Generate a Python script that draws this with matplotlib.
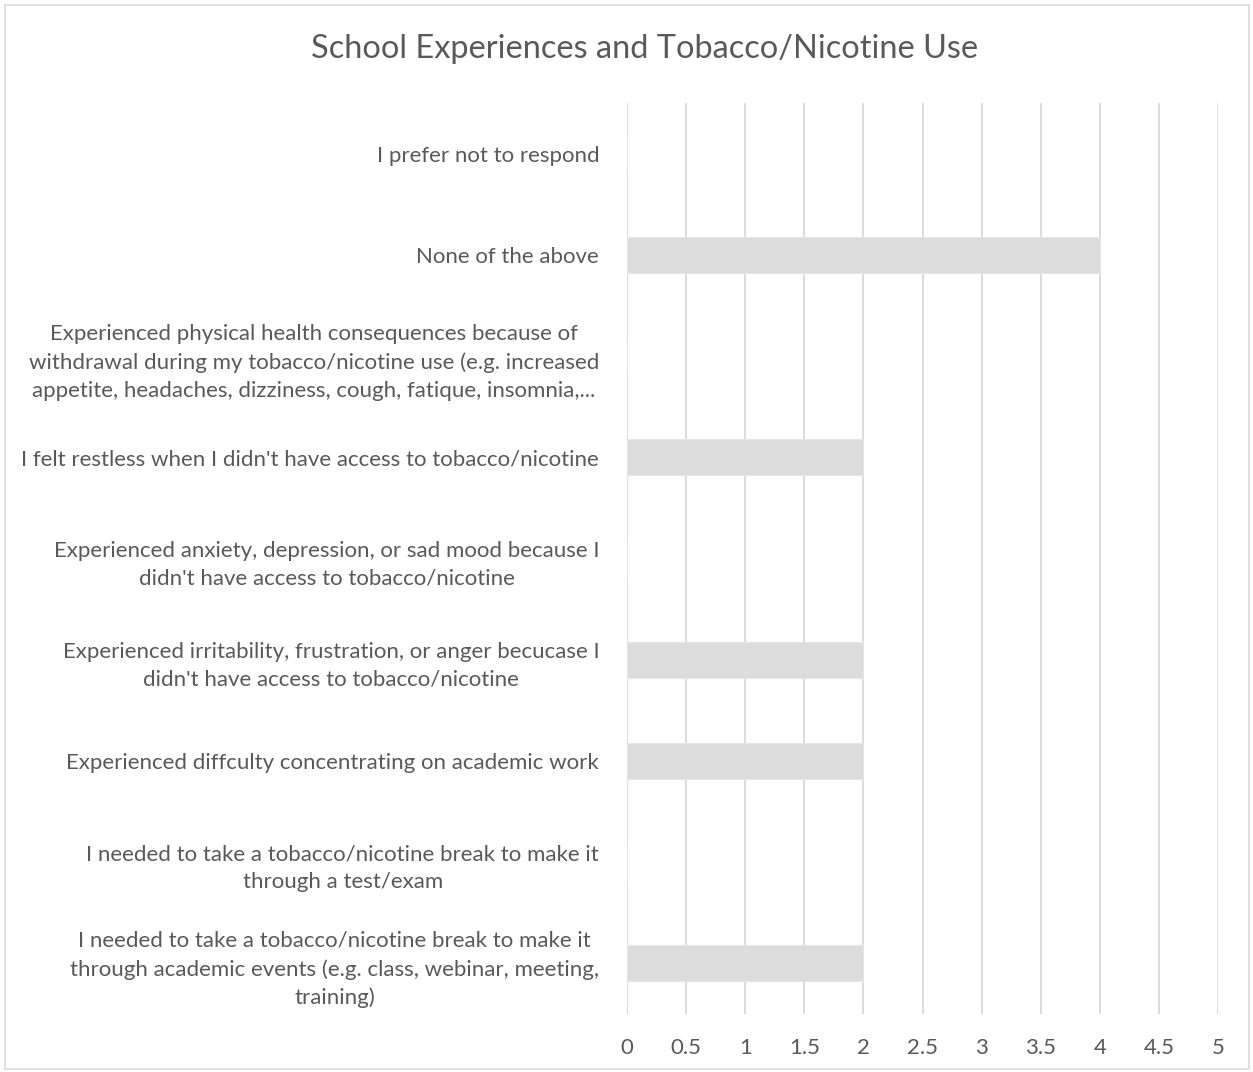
import matplotlib
matplotlib.use("Agg")
import matplotlib.pyplot as plt
from matplotlib.patches import Rectangle

categories = [
    "I needed to take a tobacco/nicotine break to make it\nthrough academic events (e.g. class, webinar, meeting,\ntraining)",
    "I needed to take a tobacco/nicotine break to make it\nthrough a test/exam",
    "Experienced diffculty concentrating on academic work",
    "Experienced irritability, frustration, or anger becucase I\ndidn't have access to tobacco/nicotine",
    "Experienced anxiety, depression, or sad mood because I\ndidn't have access to tobacco/nicotine",
    "I felt restless when I didn't have access to tobacco/nicotine",
    "Experienced physical health consequences because of\nwithdrawal during my tobacco/nicotine use (e.g. increased\nappetite, headaches, dizziness, cough, fatique, insomnia,...",
    "None of the above",
    "I prefer not to respond",
]
values = [2, 0, 2, 2, 0, 2, 0, 4, 0]
xticks = [0, 0.5, 1, 1.5, 2, 2.5, 3, 3.5, 4, 4.5, 5]
xtick_labels = ["0", "0.5", "1", "1.5", "2", "2.5", "3", "3.5", "4", "4.5", "5"]
title = "School Experiences and Tobacco/Nicotine Use"

plt.rcParams['font.family'] = ['Lato', 'DejaVu Sans']
TXT = "#595959"
GRID = "#d9d9d9"

W, H = 1253, 1072
fig = plt.figure(figsize=(W / 100, H / 100), dpi=100)
ax = fig.add_axes([627 / W, 1 - 1014 / H, (1218 - 627) / W, (1014 - 103) / H])

ypos = list(range(len(categories)))
ax.barh(ypos, values, height=0.355, color="#dcdcdc", edgecolor="#e6e6e6", linewidth=0.8, zorder=3)

ax.set_xlim(0, 5)
ax.set_ylim(-0.5, len(categories) - 0.5)
ax.set_xticks(xticks)
ax.set_xticklabels(xtick_labels)
ax.set_yticks(ypos)
ax.set_yticklabels(categories, multialignment="center", linespacing=1.5)
ax.xaxis.grid(True, color=GRID, linewidth=1.3, zorder=0)
ax.set_axisbelow(True)
for s in ax.spines.values():
    s.set_visible(False)
ax.tick_params(axis="both", length=0, colors=TXT, labelsize=16)
ax.tick_params(axis="y", pad=20)
ax.tick_params(axis="x", pad=17)

fig.text(645 / W, 1 - 49 / H, title, ha="center", va="center", fontsize=23.4, color=TXT)

fig.patches.append(Rectangle((5 / W, 3 / H), (W - 9) / W, (H - 8) / H, transform=fig.transFigure,
                             fill=False, edgecolor=GRID, linewidth=1.2))

fig.savefig("out.png", dpi=100)
